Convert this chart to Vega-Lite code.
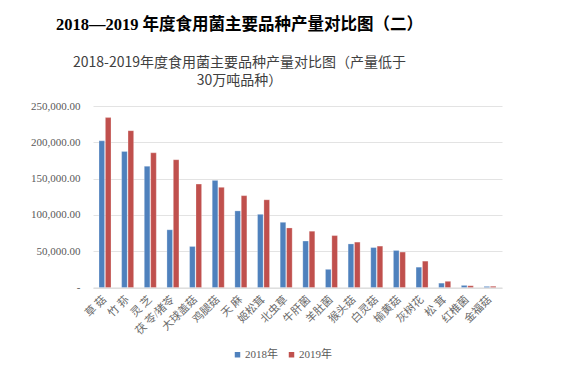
{
  "$schema": "https://vega.github.io/schema/vega-lite/v6.json",
  "autosize": "none",
  "width": 409,
  "height": 181.5,
  "padding": {"left": 93, "top": 106, "right": 74, "bottom": 90.5},
  "background": "white",
  "title": {
    "text": "2018—2019 年度食用菌主要品种产量对比图（二）",
    "subtitle": ["2018-2019年度食用菌主要品种产量对比图（产量低于", "30万吨品种）"],
    "anchor": "middle",
    "frame": "group",
    "dx": -58,
    "offset": 12,
    "font": "Liberation Serif, Noto Sans CJK SC",
    "fontSize": 16.5,
    "fontWeight": "bold",
    "color": "#000000",
    "subtitleFont": "Noto Sans CJK SC",
    "subtitleFontSize": 14,
    "subtitleColor": "#404040",
    "subtitleLineHeight": 18.5,
    "subtitlePadding": 22
  },
  "data": {
    "values": [
      {"name": "草 菇", "year": "2018年", "value": 202000},
      {"name": "草 菇", "year": "2019年", "value": 234000},
      {"name": "竹 荪", "year": "2018年", "value": 187500},
      {"name": "竹 荪", "year": "2019年", "value": 216000},
      {"name": "灵 芝", "year": "2018年", "value": 167000},
      {"name": "灵 芝", "year": "2019年", "value": 185500},
      {"name": "茯 苓/猪苓", "year": "2018年", "value": 79500},
      {"name": "茯 苓/猪苓", "year": "2019年", "value": 176000},
      {"name": "大球盖菇", "year": "2018年", "value": 56500},
      {"name": "大球盖菇", "year": "2019年", "value": 142500},
      {"name": "鸡腿菇", "year": "2018年", "value": 147500},
      {"name": "鸡腿菇", "year": "2019年", "value": 138000},
      {"name": "天 麻", "year": "2018年", "value": 105500},
      {"name": "天 麻", "year": "2019年", "value": 126500},
      {"name": "姬松茸", "year": "2018年", "value": 100800},
      {"name": "姬松茸", "year": "2019年", "value": 120800},
      {"name": "北虫草", "year": "2018年", "value": 89800},
      {"name": "北虫草", "year": "2019年", "value": 82000},
      {"name": "牛肝菌", "year": "2018年", "value": 64000},
      {"name": "牛肝菌", "year": "2019年", "value": 77500},
      {"name": "羊肚菌", "year": "2018年", "value": 25000},
      {"name": "羊肚菌", "year": "2019年", "value": 71500},
      {"name": "猴头菇", "year": "2018年", "value": 60000},
      {"name": "猴头菇", "year": "2019年", "value": 62500},
      {"name": "白灵菇", "year": "2018年", "value": 55000},
      {"name": "白灵菇", "year": "2019年", "value": 57000},
      {"name": "榆黄菇", "year": "2018年", "value": 51000},
      {"name": "榆黄菇", "year": "2019年", "value": 48800},
      {"name": "灰树花", "year": "2018年", "value": 28000},
      {"name": "灰树花", "year": "2019年", "value": 36300},
      {"name": "松 茸", "year": "2018年", "value": 6000},
      {"name": "松 茸", "year": "2019年", "value": 8500},
      {"name": "红椎菌", "year": "2018年", "value": 2900},
      {"name": "红椎菌", "year": "2019年", "value": 2400},
      {"name": "金福菇", "year": "2018年", "value": 1500},
      {"name": "金福菇", "year": "2019年", "value": 1700}
    ]
  },
  "mark": {"type": "bar", "stroke": "#ffffff", "strokeOpacity": 0.5, "strokeWidth": 0.5},
  "encoding": {
    "x": {
      "field": "name",
      "type": "nominal",
      "sort": null,
      "title": null,
      "scale": {"paddingInner": 0.47, "paddingOuter": 0.265},
      "axis": {
        "labelAngle": -45,
        "labelAlign": "right",
        "labelBaseline": "middle",
        "labelFont": "Liberation Serif, Noto Sans CJK SC",
        "labelFontSize": 11,
        "labelColor": "#6a6a6a",
        "labelPadding": 10,
        "ticks": false,
        "domain": true,
        "domainColor": "#d9d9d9",
        "grid": false
      }
    },
    "xOffset": {
      "field": "year",
      "type": "nominal",
      "scale": {"paddingInner": 0.12}
    },
    "y": {
      "field": "value",
      "type": "quantitative",
      "title": null,
      "scale": {"domain": [0, 250000], "nice": false},
      "axis": {
        "values": [0, 50000, 100000, 150000, 200000, 250000],
        "labelExpr": "datum.value == 0 ? '-' : format(datum.value, ',.2f')",
        "labelFont": "Liberation Serif, Noto Sans CJK SC",
        "labelFontSize": 11,
        "labelColor": "#595959",
        "labelPadding": 13,
        "ticks": false,
        "domain": false,
        "grid": true,
        "gridColor": "#e3e3e3",
        "gridWidth": 1
      }
    },
    "color": {
      "field": "year",
      "type": "nominal",
      "title": null,
      "scale": {"domain": ["2018年", "2019年"], "range": ["#4F81BD", "#C0504D"]},
      "legend": {
        "orient": "none",
        "direction": "horizontal",
        "legendX": 139,
        "legendY": 243,
        "symbolType": "square",
        "symbolSize": 30,
        "symbolStrokeWidth": 0,
        "columnPadding": 8,
        "labelOffset": 2,
        "labelFont": "Liberation Serif, Noto Sans CJK SC",
        "labelFontSize": 11,
        "labelColor": "#595959"
      }
    }
  },
  "config": {
    "view": {"stroke": null}
  }
}
